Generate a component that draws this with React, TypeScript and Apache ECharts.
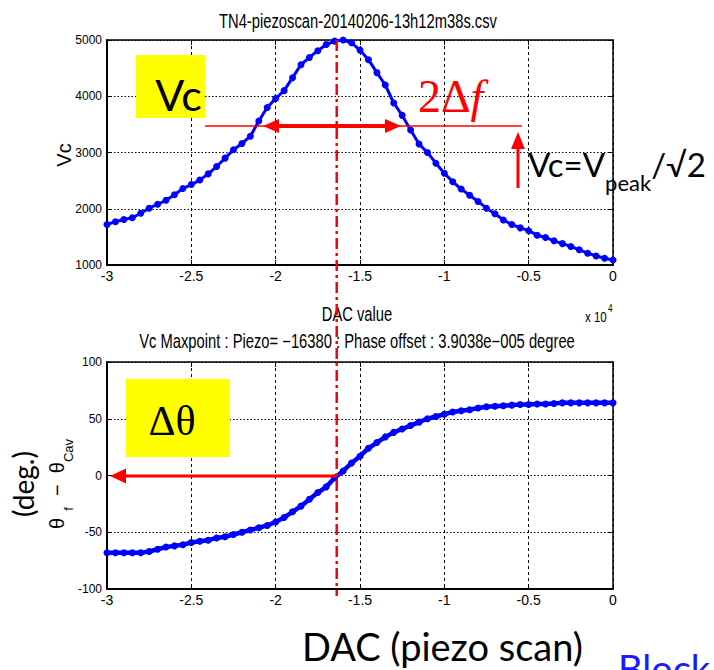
import React, { useEffect, useRef } from 'react';
import * as echarts from 'echarts';

// DAC value (x 10^4)
const DAC_X = [
  -3, -2.95, -2.9, -2.85, -2.8, -2.75, -2.7, -2.65, -2.6, -2.55, -2.5, -2.45, -2.4, -2.35, -2.3, -2.25,
  -2.2, -2.15, -2.1, -2.05, -2, -1.95, -1.9, -1.85, -1.8, -1.75, -1.7, -1.65, -1.6, -1.55, -1.5, -1.45,
  -1.4, -1.35, -1.3, -1.25, -1.2, -1.15, -1.1, -1.05, -1, -0.95, -0.9, -0.85, -0.8, -0.75, -0.7, -0.65,
  -0.6, -0.55, -0.5, -0.45, -0.4, -0.35, -0.3, -0.25, -0.2, -0.15, -0.1, -0.05, 0,
];
// Vc (top panel)
const VC = [
  1720, 1770, 1810, 1840, 1920, 2010, 2080, 2150, 2250, 2360, 2430, 2510, 2620, 2750, 2900, 3050,
  3160, 3290, 3560, 3800, 3960, 4100, 4330, 4560, 4690, 4810, 4920, 4980, 5000, 4950, 4820, 4650,
  4420, 4200, 3880, 3660, 3400, 3150, 3000, 2810, 2630, 2480, 2350, 2240, 2130, 2010, 1910, 1800,
  1720, 1660, 1610, 1530, 1490, 1430, 1380, 1330, 1270, 1210, 1160, 1120, 1090,
];
// theta_f - theta_Cav (bottom panel, deg.)
const PHASE = [
  -68, -68, -68, -68, -68, -67, -65, -63, -62, -61, -59, -58, -57, -55, -54, -52,
  -50, -48, -46, -44, -41, -37, -32, -27, -21, -15, -10, -2, 4, 11, 17, 24,
  29, 34, 38, 41, 44, 47, 50, 52, 54, 56, 57, 58, 59.5, 60.5, 61, 61.5,
  62, 62.5, 62.5, 63, 63, 63.5, 64, 64, 64, 64, 64, 64, 64,
];
const VC_PEAK_DAC = -1.638; // Piezo = -16380

const TITLE = 'TN4-piezoscan-20140206-13h12m38s.csv';
const SUBTITLE = 'Vc Maxpoint : Piezo= \u221216380 : Phase offset : 3.9038e\u2212005 degree';
const X_NAME = 'DAC value';
const TOP_Y_NAME = 'Vc';
const BIG_X_NAME = 'DAC (piezo scan)';
const BLOCK_TEXT = 'Block';

const SANS = "'Liberation Sans', Arial, sans-serif";
const HUMANIST = "Lato, 'Open Sans', sans-serif";
const SERIF = "'Liberation Serif', 'DejaVu Serif', serif";
const RED = '#ff0000';
const BLUE = '#0000ff';
const NARROW_X = 0.82;

function axesFor(grid: number, min: number, max: number, interval: number, isX: boolean, labelSize: number) {
  const common = {
    gridIndex: grid,
    type: 'value',
    min,
    max,
    interval,
  };
  const main = {
    ...common,
    position: isX ? 'bottom' : 'left',
    axisLine: { show: true, onZero: false, lineStyle: { color: '#000', width: 2 } },
    axisTick: { show: true, inside: true, length: 5, lineStyle: { color: '#000', width: 1 } },
    axisLabel: {
      color: '#000',
      fontFamily: SANS,
      fontSize: labelSize,
      margin: isX ? 4 : 5,
      formatter: (v: number) => String(Math.round(v * 100) / 100),
    },
    splitLine: { show: true, lineStyle: { color: '#000', width: 1, type: isX ? [3, 3] : [1.5, 2] } },
  };
  const opp = {
    ...common,
    position: isX ? 'top' : 'right',
    axisLine: { show: true, onZero: false, lineStyle: { color: '#000', width: 1.5 } },
    axisTick: { show: true, inside: true, length: 5, lineStyle: { color: '#000', width: 1 } },
    axisLabel: { show: false },
    splitLine: { show: false },
  };
  return [main, opp];
}

function narrowText(x: number, y: number, text: string, size: number, align: string = 'center') {
  return {
    type: 'text', x, y, scaleX: NARROW_X, scaleY: 1.08,
    style: { text, fontFamily: SANS, fontSize: size, fill: '#000', align, verticalAlign: 'middle' },
  };
}

export default function App() {
  const ref = useRef<HTMLDivElement>(null);
  useEffect(() => {
    const chart = echarts.init(ref.current!, null, { renderer: 'svg' });
    const option: any = {
      animation: false,
      backgroundColor: '#fff',
      grid: [
        { left: 107, top: 40, width: 506, height: 225, show: false },
        { left: 107, top: 362, width: 506, height: 227, show: false },
      ],
      xAxis: [...axesFor(0, -3, 0, 0.5, true, 14), ...axesFor(1, -3, 0, 0.5, true, 14)],
      yAxis: [...axesFor(0, 1000, 5000, 1000, false, 12), ...axesFor(1, -100, 100, 50, false, 12)],
      series: [
        {
          type: 'line',
          xAxisIndex: 0,
          yAxisIndex: 0,
          data: DAC_X.map((x, i) => [x, VC[i]]),
          symbol: 'circle',
          symbolSize: 7,
          showSymbol: true,
          lineStyle: { color: BLUE, width: 3 },
          itemStyle: { color: BLUE },
          silent: true,
        },
        {
          type: 'line',
          xAxisIndex: 2,
          yAxisIndex: 2,
          data: DAC_X.map((x, i) => [x, PHASE[i]]),
          symbol: 'circle',
          symbolSize: 7,
          showSymbol: true,
          lineStyle: { color: BLUE, width: 4.5 },
          itemStyle: { color: BLUE },
          silent: true,
        },
      ],
    };
    chart.setOption(option);

    const peakX = chart.convertToPixel({ xAxisIndex: 0 }, VC_PEAK_DAC) as number;

    const graphic: any[] = [
      // titles
      narrowText(358, 21, TITLE, 18),
      narrowText(357, 314, X_NAME, 18),
      narrowText(585, 317, 'x 10', 14, 'left'),
      narrowText(608, 308, '4', 10, 'left'),
      narrowText(357, 341, SUBTITLE, 18),
      // y axis names
      { type: 'text', x: 64, y: 155, rotation: Math.PI / 2, style: { text: TOP_Y_NAME, fontFamily: SANS, fontSize: 20, fill: '#000', align: 'center', verticalAlign: 'middle' } },
      {
        type: 'text', x: 61, y: 484, rotation: Math.PI / 2,
        style: {
          text: '{a|\u03b8}{b|  f}{a|  \u2212  \u03b8}{b|Cav}',
          fontFamily: SANS,
          fill: '#000', align: 'center', verticalAlign: 'middle',
          rich: {
            a: { fontSize: 20, lineHeight: 28, verticalAlign: 'top', fontFamily: SANS, fill: '#000' },
            b: { fontSize: 13, lineHeight: 13, verticalAlign: 'bottom', fontFamily: SANS, fill: '#000' },
          },
        },
      },
      { type: 'text', x: 23, y: 484, rotation: Math.PI / 2, style: { text: '(deg.)', fontFamily: HUMANIST, fontSize: 28, fill: '#000', align: 'center', verticalAlign: 'middle' } },
      // big x label and cut-off Block
      { type: 'text', x: 302, y: 646, style: { text: BIG_X_NAME, fontFamily: HUMANIST, fontSize: 38, fill: '#000', align: 'left', verticalAlign: 'middle' } },
      { type: 'text', x: 618, y: 668, style: { text: BLOCK_TEXT, fontFamily: HUMANIST, fontSize: 38, fill: '#1a1aff', align: 'left', verticalAlign: 'middle' } },
      // yellow boxes
      { type: 'rect', shape: { x: 136, y: 55, width: 69, height: 63 }, style: { fill: '#ffff00' }, z: 10 },
      { type: 'text', x: 178.5, y: 94, z: 11, style: { text: 'Vc', fontFamily: HUMANIST, fontSize: 43, fill: '#000', align: 'center', verticalAlign: 'middle' } },
      { type: 'rect', shape: { x: 126, y: 379, width: 104, height: 78 }, style: { fill: '#ffff00' }, z: 10 },
      { type: 'text', x: 172, y: 421, z: 11, style: { text: '\u0394\u03b8', fontFamily: SERIF, fontSize: 42, fill: '#000', align: 'center', verticalAlign: 'middle' } },
      // 2Δf
      {
        type: 'text', x: 418, y: 96, z: 11,
        style: {
          text: '{a|2\u0394}{b|f}', align: 'left', verticalAlign: 'middle', fill: RED,
          rich: {
            a: { fontFamily: SERIF, fontSize: 46, fill: RED },
            b: { fontFamily: SERIF, fontSize: 46, fontStyle: 'italic', fill: RED },
          },
        },
      },
      // Vc=Vpeak/√2
      {
        type: 'text', x: 528, y: 147, z: 11,
        style: {
          text: '{a|Vc=V}{b|peak}{a|/\u221a2}', align: 'left', verticalAlign: 'top', fill: '#000',
          rich: {
            a: { fontFamily: HUMANIST, fontSize: 33, lineHeight: 46, verticalAlign: 'top', fill: '#000' },
            b: { fontFamily: HUMANIST, fontSize: 22, lineHeight: 16, verticalAlign: 'bottom', fill: '#000' },
          },
        },
      },
      // horizontal half-level thin line and double arrow
      { type: 'line', z: 12, shape: { x1: 205, y1: 126, x2: 522, y2: 126 }, style: { stroke: RED, lineWidth: 1.5 } },
      { type: 'line', z: 12, shape: { x1: 275, y1: 126, x2: 388, y2: 126 }, style: { stroke: RED, lineWidth: 4 } },
      { type: 'polygon', z: 12, shape: { points: [[263, 126], [279, 119], [279, 133]] }, style: { fill: RED } },
      { type: 'polygon', z: 12, shape: { points: [[401, 126], [385, 119], [385, 133]] }, style: { fill: RED } },
      // up arrow
      { type: 'line', z: 12, shape: { x1: 518, y1: 188, x2: 518, y2: 146 }, style: { stroke: RED, lineWidth: 3 } },
      { type: 'polygon', z: 12, shape: { points: [[518, 132], [511, 149], [525, 149]] }, style: { fill: RED } },
      // bottom left arrow
      { type: 'line', z: 12, shape: { x1: peakX, y1: 476, x2: 122, y2: 476 }, style: { stroke: RED, lineWidth: 3 } },
      { type: 'polygon', z: 12, shape: { points: [[110, 476], [126, 468.5], [126, 483.5]] }, style: { fill: RED } },
      // peak dash-dot vertical line
      { type: 'line', z: 13, shape: { x1: peakX, y1: 40, x2: peakX, y2: 596 }, style: { stroke: RED, lineWidth: 2.5, lineDash: [11, 4, 3, 4] } },
    ];
    chart.setOption({ graphic });

    return () => chart.dispose();
  }, []);
  return <div ref={ref} style={{ position: 'absolute', left: 0, top: 0, width: 714, height: 670 }} />;
}
